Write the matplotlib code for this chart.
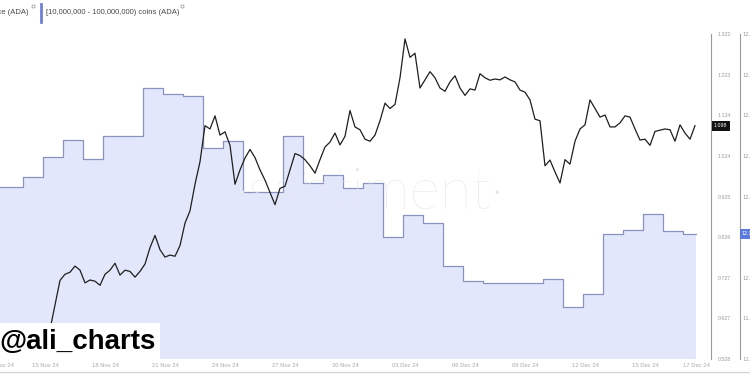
import matplotlib
matplotlib.use("Agg")
import matplotlib.pyplot as plt
import pandas as pd
from matplotlib.patches import Rectangle
from matplotlib.lines import Line2D
from matplotlib.transforms import blended_transform_factory

# ADA price, 6-hourly from 13 Nov 2024 00:00
price = [
    0.58, 0.59, 0.57, 0.56, 0.57, 0.55, 0.56, 0.55, 0.57, 0.60,
    0.66, 0.72, 0.735, 0.74, 0.755, 0.745, 0.714, 0.721, 0.718, 0.708,
    0.735, 0.745, 0.762, 0.733, 0.745, 0.742, 0.728, 0.742, 0.760, 0.800,
    0.830, 0.795, 0.777, 0.782, 0.779, 0.805, 0.860, 0.890, 0.955, 1.010,
    1.098, 1.090, 1.122, 1.075, 1.083, 1.050, 0.955, 0.990, 1.019, 1.040,
    1.020, 0.990, 0.965, 0.935, 0.905, 0.945, 0.950, 0.990, 1.030, 1.025,
    1.015, 1.000, 0.982, 1.015, 1.046, 1.058, 1.080, 1.051, 1.072, 1.135,
    1.095, 1.088, 1.065, 1.060, 1.075, 1.110, 1.153, 1.140, 1.150, 1.215,
    1.310, 1.265, 1.275, 1.190, 1.210, 1.230, 1.215, 1.190, 1.182, 1.205,
    1.220, 1.190, 1.172, 1.188, 1.185, 1.225, 1.215, 1.209, 1.212, 1.210,
    1.217, 1.210, 1.205, 1.185, 1.180, 1.161, 1.114, 1.110, 1.000, 1.014,
    0.985, 0.958, 1.015, 1.004, 1.060, 1.090, 1.100, 1.161, 1.140, 1.119,
    1.124, 1.095, 1.095, 1.105, 1.122, 1.119, 1.090, 1.063, 1.065, 1.050,
    1.084, 1.087, 1.090, 1.088, 1.060, 1.100, 1.080, 1.065, 1.098,
]
price_t = pd.date_range("2024-11-13 00:00", periods=len(price), freq="6h")

# supply held by 10M-100M ADA wallets (billions), daily
holdings = [
    12.223, 12.223, 12.248, 12.297, 12.339, 12.292, 12.349, 12.349, 12.467, 12.452,
    12.447, 12.319, 12.337, 12.211, 12.211, 12.349, 12.233, 12.253, 12.221, 12.233,
    12.100, 12.154, 12.135, 12.029, 11.992, 11.987, 11.987, 11.987, 11.997, 11.928,
    11.960, 12.108, 12.118, 12.157, 12.115, 12.108,
]
hold_t = list(pd.date_range("2024-11-11 21:00", periods=len(holdings), freq="1D"))
hold_t.append(pd.Timestamp("2024-12-17 13:00"))
holdings_ext = holdings + [holdings[-1]]

price_ticks = [0.528, 0.627, 0.727, 0.826, 0.925, 1.024, 1.124, 1.223, 1.322]
hold_ticks = [11.8, 11.9, 12.0, 12.1, 12.2, 12.3, 12.4, 12.5, 12.6]
date_ticks = ["2024-11-12 18:00", "2024-11-15 00:00", "2024-11-18 00:00", "2024-11-21 00:00",
              "2024-11-24 00:00", "2024-11-27 00:00", "2024-11-30 00:00", "2024-12-03 00:00",
              "2024-12-06 00:00", "2024-12-09 00:00", "2024-12-12 00:00", "2024-12-15 00:00",
              "2024-12-17 14:00"]
date_labels = ["12 Nov 24", "15 Nov 24", "18 Nov 24", "21 Nov 24", "24 Nov 24", "27 Nov 24",
               "30 Nov 24", "03 Dec 24", "06 Dec 24", "09 Dec 24", "12 Dec 24", "15 Dec 24",
               "17 Dec 24"]

W, H = 750, 375
fig = plt.figure(figsize=(7.5, 3.75), dpi=100)
ax = fig.add_axes([0, 1 - 359 / H, 711 / W, (359 - 34) / H])
axp = ax.twinx()

x0 = pd.Timestamp("2024-11-12 18:00")
ax.set_xlim(x0, x0 + pd.Timedelta(days=711 / 20))

# holdings fill
ax.fill_between(hold_t, 11.0, holdings_ext, step="post", color="#e2e7fb", lw=0)
ax.step(hold_t, holdings_ext, where="post", color="#8a93bd", lw=0.9)
ax.set_ylim(11.8, 12.6)
ax.text(0.52, 0.51, "·santiment·", transform=ax.transAxes, ha="center", va="center",
        fontsize=42, color="#e5e7ed", family="Lato", fontweight="light", zorder=5)

# price line
axp.plot(price_t, price, color="#1e1e1e", lw=0.9)
axp.set_ylim(0.528, 1.322)

for a in (ax, axp):
    for s in ("top", "left", "bottom"):
        a.spines[s].set_visible(False)
ax.spines["right"].set_position(("axes", 740 / 711))
ax.spines["right"].set_color("#9a9a9a")
axp.spines["right"].set_color("#9a9a9a")
ax.spines["right"].set_linewidth(0.8)
axp.spines["right"].set_linewidth(0.8)

axp.set_yticks(price_ticks)
axp.set_yticklabels([f"{v:.3f}" for v in price_ticks])
axp.tick_params(axis="y", length=0, pad=4.5, labelsize=3.8, labelcolor="#9a9a9a")
for lab in axp.get_yticklabels():
    lab.set_family("Liberation Sans")

ax.yaxis.tick_right()
ax.set_yticks(hold_ticks)
ax.set_yticklabels([f"{v:.2f}B" for v in hold_ticks])
ax.tick_params(axis="y", length=0, pad=2, labelsize=3.8, labelcolor="#9a9a9a")

ax.set_xticks(pd.to_datetime(date_ticks))
ax.set_xticklabels(date_labels, family="Liberation Sans")
ax.tick_params(axis="x", length=0, pad=3, labelsize=4.2, labelcolor="#aaaaaa")

# value tags
tp = blended_transform_factory(axp.transAxes, axp.transData)
axp.text(1 + 3 / 711, price[-1], f"{price[-1]:.3f}", transform=tp, ha="left", va="center",
         color="white", fontsize=3.8, family="Liberation Sans",
         bbox=dict(boxstyle="square,pad=0.45", fc="#111111", ec="none"))
th = blended_transform_factory(ax.transAxes, ax.transData)
ax.text(740 / 711 + 2 / 711, holdings[-1], f"{holdings[-1]:.2f}B", transform=th, ha="left",
        va="center", color="white", fontsize=3.8, family="Liberation Sans",
        bbox=dict(boxstyle="square,pad=0.45", fc="#5b7bdc", ec="none"))

# bottom border
fig.add_artist(Line2D([0, 1], [1 - 372 / H] * 2, color="#d4d4d4", lw=1))

# legend row
fig.text(28 / W, 1 - 13 / H, "Price (ADA)", ha="right", va="center", fontsize=5.5,
         color="#4a4a4a", family="Liberation Sans")
fig.add_artist(Line2D([33 / W], [1 - 6 / H], marker="o", ms=2.2, mfc="none", mec="#aaaaaa", mew=0.7))
fig.add_artist(Line2D([41 / W] * 2, [1 - 4 / H, 1 - 22 / H], color="#6f82d8", lw=2))
fig.text(46 / W, 1 - 13 / H, "[10,000,000 - 100,000,000) coins (ADA)", ha="left", va="center",
         fontsize=5.5, color="#4a4a4a", family="Liberation Sans")
fig.add_artist(Line2D([182 / W], [1 - 6 / H], marker="o", ms=2.2, mfc="none", mec="#aaaaaa", mew=0.7))

# handle
fig.add_artist(Rectangle((0, 1 - 360 / H), 160 / W, 37 / H, transform=fig.transFigure,
                         fc="white", ec="none", zorder=10))
fig.text(-1 / W, 1 - 349 / H, "@ali_charts", fontsize=20, fontweight="bold",
         family="Liberation Sans", color="black", va="baseline", zorder=11)

fig.savefig("out.png", dpi=100)
